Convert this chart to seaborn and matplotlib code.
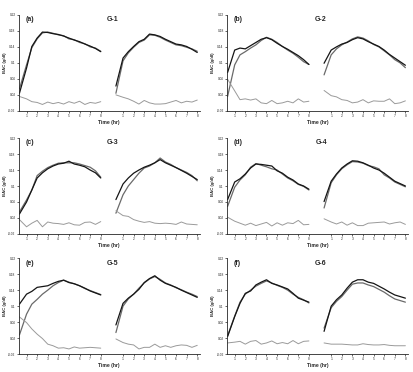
import matplotlib
matplotlib.use("Agg")
import matplotlib.pyplot as plt
import numpy as np
import seaborn as sns

# time grid (hr), same for every curve
hours = [0.33, 1, 1.5, 2, 2.5, 3, 3.5, 4, 4.5, 5, 5.5, 6, 6.5, 7, 7.5, 8]
tick_hours = [1, 2, 3, 4, 5, 6, 7, 8]
yticks = [-0.02, 0.02, 0.06, 0.1, 0.14, 0.18, 0.22]
ytick_labels = ["-0.02", "0.02", "0.06", "0.1", "0.14", "0.18", "0.22"]

panel_tags = ["(a)", "(b)", "(c)", "(d)", "(e)", "(f)"]
group_names = ["G-1", "G-2", "G-3", "G-4", "G-5", "G-6"]

# G-1
g1_left_a = [0.024, 0.087, 0.141, 0.162, 0.177, 0.176, 0.173, 0.171, 0.167, 0.162, 0.157, 0.153, 0.147, 0.142, 0.136, 0.128]
g1_left_b = [0.035, 0.095, 0.138, 0.160, 0.175, 0.177, 0.174, 0.170, 0.168, 0.160, 0.158, 0.151, 0.148, 0.140, 0.137, 0.129]
g1_left_d = [0.016, 0.010, 0.003, 0.001, -0.004, 0.002, -0.002, 0.001, -0.003, 0.003, -0.001, 0.004, -0.004, 0.001, -0.001, 0.003]
g1_right_a = [0.042, 0.112, 0.128, 0.141, 0.153, 0.159, 0.172, 0.170, 0.166, 0.159, 0.153, 0.147, 0.145, 0.141, 0.134, 0.126]
g1_right_b = [0.024, 0.105, 0.125, 0.139, 0.151, 0.157, 0.170, 0.169, 0.164, 0.157, 0.151, 0.145, 0.143, 0.139, 0.135, 0.129]
g1_right_d = [0.020, 0.014, 0.010, 0.004, -0.003, 0.006, 0.000, -0.003, -0.003, -0.002, 0.002, 0.006, 0.000, 0.004, 0.002, 0.007]

# G-2
g2_left_a = [0.076, 0.132, 0.137, 0.135, 0.143, 0.151, 0.159, 0.163, 0.158, 0.149, 0.141, 0.134, 0.126, 0.118, 0.108, 0.096]
g2_left_b = [0.016, 0.095, 0.120, 0.128, 0.137, 0.145, 0.156, 0.164, 0.159, 0.151, 0.141, 0.132, 0.124, 0.114, 0.103, 0.096]
g2_left_d = [0.059, 0.030, 0.008, 0.010, 0.007, 0.010, 0.000, -0.002, 0.006, -0.002, 0.000, 0.004, 0.000, 0.010, 0.002, 0.004]
g2_right_a = [0.099, 0.132, 0.140, 0.147, 0.151, 0.158, 0.163, 0.160, 0.153, 0.147, 0.141, 0.132, 0.121, 0.112, 0.103, 0.094]
g2_right_b = [0.070, 0.120, 0.135, 0.145, 0.152, 0.160, 0.165, 0.162, 0.155, 0.146, 0.140, 0.130, 0.120, 0.108, 0.100, 0.088]
g2_right_d = [0.031, 0.018, 0.015, 0.008, 0.006, 0.000, 0.002, 0.008, 0.000, 0.005, 0.004, 0.004, 0.010, -0.002, 0.000, 0.005]

# G-3
g3_left_a = [0.030, 0.060, 0.090, 0.120, 0.133, 0.143, 0.150, 0.155, 0.157, 0.162, 0.155, 0.152, 0.148, 0.140, 0.133, 0.120]
g3_left_b = [0.035, 0.065, 0.090, 0.126, 0.137, 0.146, 0.152, 0.157, 0.158, 0.158, 0.158, 0.155, 0.151, 0.147, 0.138, 0.122]
g3_left_d = [0.016, -0.002, 0.007, 0.014, -0.002, 0.010, 0.007, 0.006, 0.004, 0.008, 0.003, 0.002, 0.009, 0.010, 0.004, 0.011]
g3_right_a = [0.066, 0.105, 0.120, 0.132, 0.140, 0.147, 0.152, 0.158, 0.166, 0.158, 0.152, 0.146, 0.139, 0.132, 0.124, 0.116]
g3_right_b = [0.032, 0.078, 0.100, 0.116, 0.132, 0.145, 0.150, 0.158, 0.170, 0.160, 0.154, 0.146, 0.140, 0.134, 0.126, 0.113]
g3_right_d = [0.038, 0.026, 0.024, 0.016, 0.012, 0.009, 0.011, 0.007, 0.006, 0.007, 0.006, 0.004, 0.010, 0.005, 0.004, 0.003]

# G-4
g4_left_a = [0.066, 0.110, 0.118, 0.130, 0.145, 0.155, 0.154, 0.152, 0.150, 0.138, 0.132, 0.122, 0.115, 0.105, 0.100, 0.092]
g4_left_b = [0.049, 0.097, 0.115, 0.128, 0.147, 0.156, 0.152, 0.148, 0.143, 0.140, 0.130, 0.120, 0.113, 0.104, 0.099, 0.090]
g4_left_d = [0.022, 0.012, 0.007, 0.002, 0.007, 0.001, 0.005, 0.009, 0.000, 0.008, 0.002, 0.008, 0.006, 0.014, 0.003, 0.004]
g4_right_a = [0.061, 0.112, 0.130, 0.145, 0.155, 0.163, 0.162, 0.158, 0.152, 0.145, 0.140, 0.132, 0.122, 0.112, 0.106, 0.100]
g4_right_b = [0.045, 0.108, 0.128, 0.143, 0.153, 0.161, 0.160, 0.157, 0.151, 0.148, 0.143, 0.128, 0.120, 0.110, 0.104, 0.098]
g4_right_d = [0.018, 0.010, 0.005, 0.010, 0.002, 0.008, 0.001, 0.001, 0.007, 0.008, 0.009, 0.010, 0.005, 0.008, 0.010, 0.004]

# G-5
g5_left_a = [0.105, 0.130, 0.137, 0.147, 0.149, 0.151, 0.157, 0.162, 0.165, 0.159, 0.156, 0.151, 0.145, 0.138, 0.133, 0.128]
g5_left_b = [0.028, 0.080, 0.105, 0.117, 0.130, 0.140, 0.151, 0.159, 0.165, 0.160, 0.156, 0.151, 0.144, 0.139, 0.134, 0.129]
g5_left_d = [0.073, 0.059, 0.043, 0.030, 0.019, 0.005, 0.001, -0.005, -0.004, -0.007, -0.002, -0.005, -0.004, -0.003, -0.004, -0.005]
g5_right_a = [0.053, 0.107, 0.120, 0.130, 0.142, 0.159, 0.169, 0.176, 0.165, 0.157, 0.152, 0.147, 0.140, 0.134, 0.128, 0.122]
g5_right_b = [0.034, 0.100, 0.118, 0.130, 0.145, 0.158, 0.168, 0.174, 0.167, 0.158, 0.153, 0.146, 0.141, 0.135, 0.130, 0.124]
g5_right_d = [0.018, 0.009, 0.005, 0.003, -0.007, -0.003, -0.003, 0.005, -0.003, 0.001, -0.003, 0.001, 0.003, 0.002, -0.003, 0.002]

# G-6
g6_left_a = [0.024, 0.074, 0.107, 0.132, 0.138, 0.153, 0.160, 0.166, 0.157, 0.153, 0.148, 0.143, 0.132, 0.120, 0.115, 0.110]
g6_left_b = [0.026, 0.075, 0.110, 0.130, 0.140, 0.150, 0.157, 0.163, 0.158, 0.152, 0.147, 0.140, 0.130, 0.122, 0.116, 0.108]
g6_left_d = [0.008, 0.010, 0.012, 0.005, 0.012, 0.014, 0.005, 0.008, 0.013, 0.006, 0.009, 0.006, 0.014, 0.006, 0.012, 0.013]
g6_right_a = [0.037, 0.100, 0.116, 0.128, 0.145, 0.160, 0.166, 0.166, 0.160, 0.157, 0.150, 0.143, 0.135, 0.128, 0.124, 0.120]
g6_right_b = [0.045, 0.096, 0.112, 0.124, 0.140, 0.155, 0.158, 0.158, 0.153, 0.149, 0.142, 0.135, 0.126, 0.118, 0.114, 0.110]
g6_right_d = [0.008, 0.005, 0.005, 0.005, 0.004, 0.003, 0.003, 0.006, 0.004, 0.003, 0.003, 0.004, 0.002, 0.001, 0.001, 0.001]

groups = [
    (g1_left_a, g1_left_b, g1_left_d, g1_right_a, g1_right_b, g1_right_d),
    (g2_left_a, g2_left_b, g2_left_d, g2_right_a, g2_right_b, g2_right_d),
    (g3_left_a, g3_left_b, g3_left_d, g3_right_a, g3_right_b, g3_right_d),
    (g4_left_a, g4_left_b, g4_left_d, g4_right_a, g4_right_b, g4_right_d),
    (g5_left_a, g5_left_b, g5_left_d, g5_right_a, g5_right_b, g5_right_d),
    (g6_left_a, g6_left_b, g6_left_d, g6_right_a, g6_right_b, g6_right_d),
]

sns.set_style("ticks")
plt.rcParams["font.family"] = ["Liberation Sans", "DejaVu Sans"]

fig = plt.figure(figsize=(4.13, 3.72), dpi=100)

shift = 9.1  # second block of each panel sits after the first on the same axis
t = np.array(hours)
lefts = [0.045, 0.549]
bottoms = [0.702, 0.371, 0.048]
w, h = 0.439, 0.258

for i, grp in enumerate(groups):
    ax = fig.add_axes([lefts[i % 2], bottoms[i // 2], w, h])
    la, lb, ld, ra, rb, rd = grp
    for off, a, b, d in [(0, la, lb, ld), (shift, ra, rb, rd)]:
        sns.lineplot(x=t + off, y=b, ax=ax, color="#6a6a6a", lw=0.9)
        sns.lineplot(x=t + off, y=a, ax=ax, color="#151515", lw=0.9)
        sns.lineplot(x=t + off, y=d, ax=ax, color="#9a9a9a", lw=0.7)
    ax.set_xlim(0.25, 17.35)
    ax.set_ylim(-0.02, 0.22)
    pos = tick_hours + [x + shift for x in tick_hours]
    ax.set_xticks(pos)
    ax.set_xticklabels([str(x) for x in tick_hours] * 2)
    ax.set_yticks(yticks)
    ax.set_yticklabels(ytick_labels)
    ax.tick_params(labelsize=2.3, length=1.2, width=0.5, pad=1.0)
    for s in ["top", "right"]:
        ax.spines[s].set_visible(False)
    for s in ["left", "bottom"]:
        ax.spines[s].set_linewidth(0.6)
    ax.set_xlabel("Time (hr)", fontsize=3.6, fontweight="bold", labelpad=1.5)
    ax.set_ylabel("BAC (g/dl)", fontsize=3.1, fontweight="bold", labelpad=1.0)
    ax.text(0.04, 0.985, panel_tags[i], transform=ax.transAxes, fontsize=5,
            fontweight="bold", va="top", ha="left")
    ax.text(0.52, 0.985, group_names[i], transform=ax.transAxes, fontsize=5,
            fontweight="bold", va="top", ha="center")

fig.savefig("out.png", dpi=100)
